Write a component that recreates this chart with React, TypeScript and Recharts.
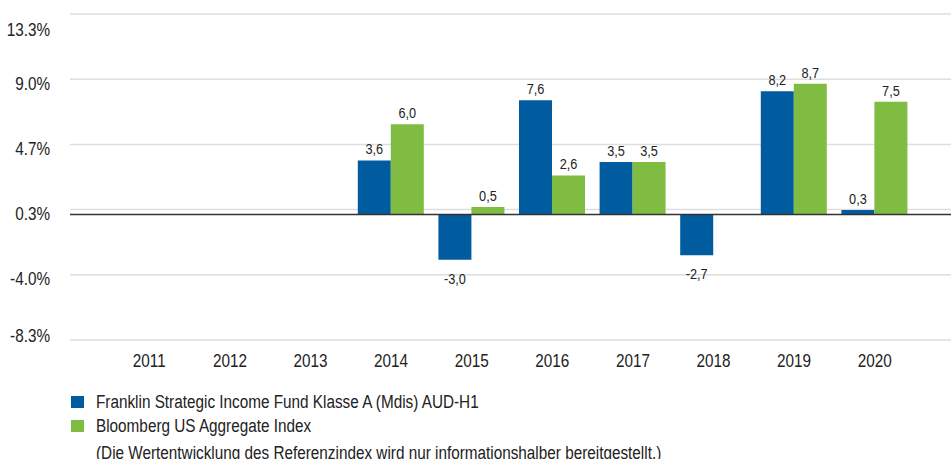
import React from "react";
import { BarChart, Bar, XAxis, YAxis, CartesianGrid, ReferenceLine, LabelList } from "recharts";

const YEARS = ["2011", "2012", "2013", "2014", "2015", "2016", "2017", "2018", "2019", "2020"];
const FUND = [null, null, null, 3.6, -3.0, 7.6, 3.5, -2.7, 8.2, 0.3];
const INDEX = [null, null, null, 6.0, 0.5, 2.6, 3.5, 0.0, 8.7, 7.5];
const Y_TICKS = [-8.333, -4.0, 0.333, 4.667, 9.0, 13.333];

const FUND_NAME = "Franklin Strategic Income Fund Klasse A (Mdis) AUD-H1";
const INDEX_NAME = "Bloomberg US Aggregate Index";
const NOTE = "(Die Wertentwicklung des Referenzindex wird nur informationshalber bereitgestellt.)";

const BLUE = "#005b9f";
const GREEN = "#80bc42";
const FONT = "'Liberation Sans', Arial, sans-serif";
const SQUEEZE = 0.85; // the original uses a narrow face

const data = YEARS.map((year, i) => ({ year, fund: FUND[i], index: INDEX[i] }));

function NarrowText({ x, y, anchor, size, children }: any) {
  return (
    <text
      transform={`translate(${x} ${y}) scale(${SQUEEZE} 1)`}
      x={0}
      y={0}
      textAnchor={anchor}
      fill="#222"
      fontSize={size}
      fontFamily={FONT}
    >
      {children}
    </text>
  );
}

function YTick(props: any) {
  const { x, y, payload, index } = props;
  // outer labels are pulled inward like in the original
  let dy = 4;
  if (index === Y_TICKS.length - 1) dy = 15;
  if (index === 0) dy = -5;
  return (
    <NarrowText x={x} y={y + dy + 6.5} anchor="end" size={18}>
      {payload.value.toFixed(1)}%
    </NarrowText>
  );
}

function XTick(props: any) {
  const { x, y, payload } = props;
  return (
    <NarrowText x={x} y={y + 13} anchor="middle" size={18}>
      {payload.value}
    </NarrowText>
  );
}

function ValueLabel(props: any) {
  const { x, y, width, height, value } = props;
  if (value === null || value === undefined) return null;
  const top = Math.min(y, y + height);
  const bottom = Math.max(y, y + height);
  const ty = value >= 0 ? top - 6 : bottom + 24;
  return (
    <NarrowText x={x + width / 2} y={ty} anchor="middle" size={15}>
      {value.toFixed(1).replace(".", ",")}
    </NarrowText>
  );
}

const narrowSpan: React.CSSProperties = {
  display: "inline-block",
  transform: `scaleX(${SQUEEZE})`,
  transformOrigin: "left center",
  whiteSpace: "nowrap",
};

function LegendRow({ color, label }: { color: string; label: string }) {
  return (
    <div style={{ position: "relative", height: 24, lineHeight: "24px", paddingLeft: 25 }}>
      <span style={{ position: "absolute", left: 0, top: 6, width: 13, height: 12, background: color }} />
      <span style={narrowSpan}>{label}</span>
    </div>
  );
}

export default function App() {
  return (
    <div style={{ position: "absolute", left: 0, top: 0, width: 951, height: 459, overflow: "hidden", background: "#fff" }}>
      <BarChart
        width={951}
        height={459}
        data={data}
        margin={{ top: 14, right: 0, left: 0, bottom: 89 }}
        barGap={0}
        barSize={33}
      >
        <CartesianGrid vertical={false} stroke="#dedede" strokeWidth={1.5} />
        <XAxis
          dataKey="year"
          axisLine={false}
          tickLine={false}
          tickSize={0}
          tickMargin={14}
          height={30}
          interval={0}
          padding={{ left: 39, right: 36 }}
          tick={<XTick />}
        />
        <YAxis
          width={70}
          domain={[-8.333, 13.333]}
          ticks={Y_TICKS}
          interval={0}
          axisLine={false}
          tickLine={false}
          tickSize={0}
          tickMargin={20}
          tick={<YTick />}
        />
        <ReferenceLine y={0} stroke="#333" strokeWidth={1.5} />
        <Bar dataKey="fund" fill={BLUE} isAnimationActive={false}>
          <LabelList dataKey="fund" content={<ValueLabel />} />
        </Bar>
        <Bar dataKey="index" fill={GREEN} isAnimationActive={false}>
          <LabelList dataKey="index" content={<ValueLabel />} />
        </Bar>
      </BarChart>
      <div style={{ position: "absolute", left: 71, top: 390, fontFamily: FONT, fontSize: 18, color: "#222" }}>
        <LegendRow color={BLUE} label={FUND_NAME} />
        <LegendRow color={GREEN} label={INDEX_NAME} />
        <div style={{ paddingLeft: 25, marginTop: 3, lineHeight: "24px" }}>
          <span style={narrowSpan}>{NOTE}</span>
        </div>
      </div>
    </div>
  );
}
